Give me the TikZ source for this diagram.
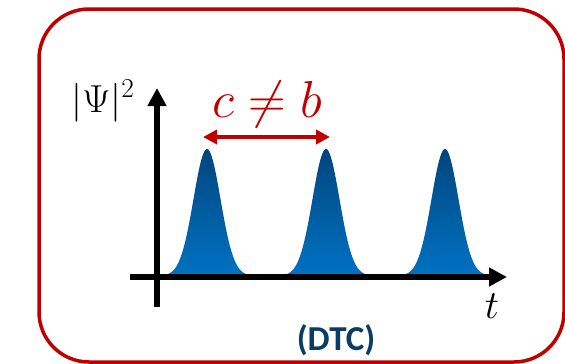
\documentclass[tikz,border=0pt]{standalone}
\usepackage{fix-cm}
\usepackage{fontspec}
\newfontfamily\dtcfont{Carlito}
\usetikzlibrary{arrows.meta}
\definecolor{dtcred}{RGB}{192,0,0}
\definecolor{peakdark}{RGB}{0,70,125}
\definecolor{peaklight}{RGB}{0,113,193}
\definecolor{dtcblue}{RGB}{10,60,100}

\begin{document}
\begin{tikzpicture}[
  x=1pt, y=-1pt,
  frame/.style={draw=dtcred, line width=3.5pt, rounded corners=50pt},
  axis/.style={-{Triangle[length=18pt, width=18pt]}, line width=6pt},
  period/.style={{Triangle[length=14pt, width=14pt]}-{Triangle[length=14pt, width=14pt]},
                 draw=dtcred, line width=3.5pt},
  peak/.style={top color=peakdark, bottom color=peaklight},
  lbl/.style={inner sep=0pt, anchor=base},
]
  \useasboundingbox (0,0) rectangle (565,364);
  \draw[frame] (39,9) rectangle (564,362);

  \shade[peak, shift={(207,0)}] plot[domain=-40:40, samples=81] (\x, {276-127*exp(-(\x)^2/364)}) -- cycle;
  \shade[peak, shift={(326,0)}] plot[domain=-40:40, samples=81] (\x, {276-127*exp(-(\x)^2/364)}) -- cycle;
  \shade[peak, shift={(445,0)}] plot[domain=-40:40, samples=81] (\x, {276-127*exp(-(\x)^2/364)}) -- cycle;

  \coordinate (ybot) at (157,307);
  \coordinate (ytop) at (157,88);
  \coordinate (xleft) at (130,277);
  \coordinate (xright) at (507,277);
  \draw[axis] (ybot) -- (ytop);
  \draw[axis] (xleft) -- (xright);

  \node[lbl] (psi) at (103,112) {\fontsize{39}{44}\selectfont$|\Psi|^2$};
  \node[lbl] (t) at (492,318) {\fontsize{40}{44}\selectfont$t$};

  \coordinate (pl) at (203,137);
  \coordinate (pr) at (330,137);
  \draw[period] (pl) -- (pr);
  \node[lbl, text=dtcred] (cb) at (267,117) {\fontsize{52}{56}\selectfont$c \neq b$};

  \node[lbl, text=dtcblue] (dtc) at (336,350) {\fontsize{35}{38}\selectfont\dtcfont\bfseries (DTC)};
\end{tikzpicture}
\end{document}
